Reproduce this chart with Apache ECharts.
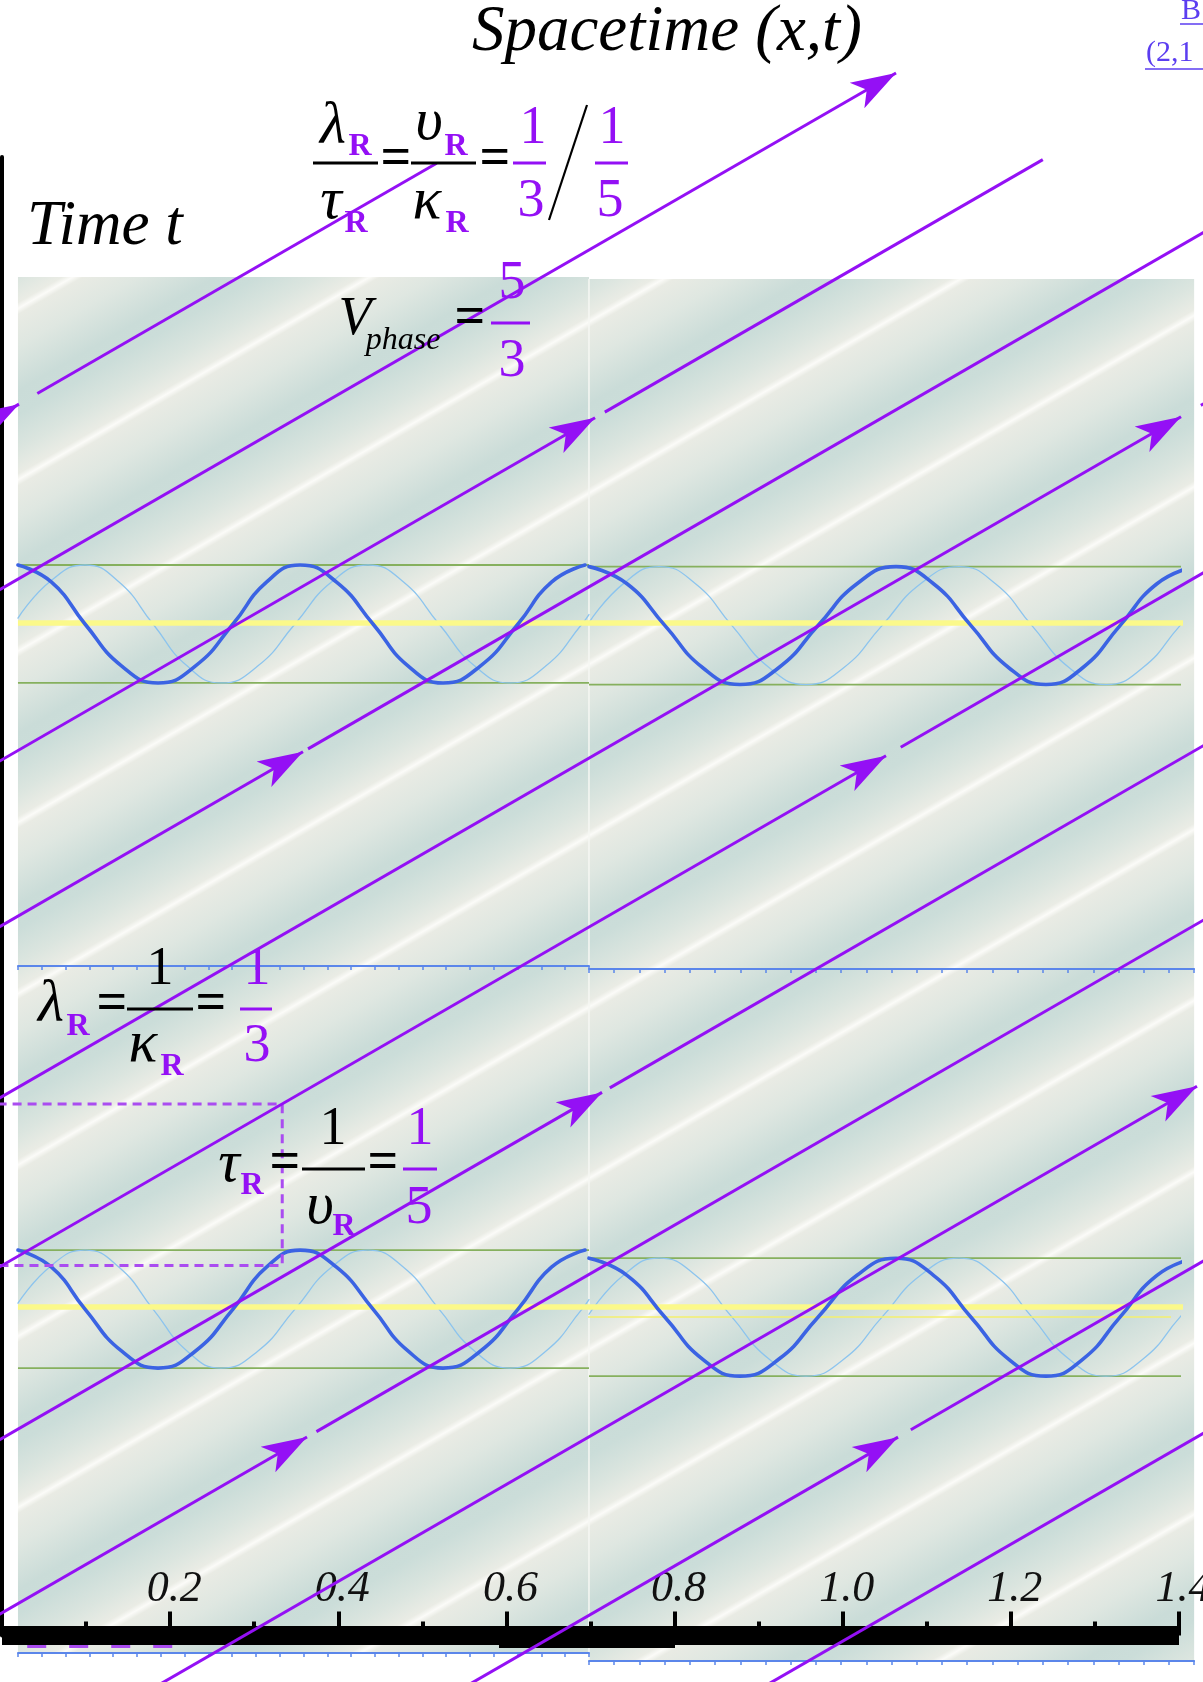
<!DOCTYPE html>
<html>
<head>
<meta charset="utf-8">
<script src="https://cdn.jsdelivr.net/npm/echarts@6/dist/echarts.min.js"></script>
<style>
  html, body { margin: 0; padding: 0; background: #ffffff; }
  #chart { width: 1203px; height: 1682px; }
</style>
</head>
<body>
<div id="chart"></div>
<script>
// ---------------- wave / spacetime parameters ----------------
const V_PHASE = 5 / 3;     // phase velocity  V = lambda / tau
const LAMBDA = 1 / 3;      // wavelength
const TAU = 1 / 5;         // period

// x-axis ticks and their labels
const xTickValues = [0.2, 0.4, 0.6, 0.8, 1.0, 1.2, 1.4];
const xTickLabels = ['0.2', '0.4', '0.6', '0.8', '1.0', '1.2', '1.4'];

// phase world-lines  t = t0 + x / V   (t0 = time where each line meets x = 0)
const phaseT0      = [1.512, 1.296, 1.084, 0.879, 0.667, 0.458, 0.244, 0.028, -0.173, -0.394, -0.607];
const phaseStartX  = [-0.03, -0.03, -0.03, -0.03, -0.03, -0.03, -0.03, -0.03, 0.17, 0.55, 0.90];
const phaseArrowX  = [0.0202, 1.0634, 0.7054, 0.3580, 1.4024, 1.0515, 0.7137, 0.3628, 1.4214, 1.0658, null];
const phaseResumeX = [0.042, null, 0.717, 0.364, 1.426, 1.069, 0.723, 0.374, null, 1.081, 0.90];
const phaseEndX    = [0.517, null, 1.238, 1.45, 1.45, 1.45, 1.45, 1.45, null, 1.45, 1.45];
const BOX_LINE = 5;        // world-line whose crossing is boxed by lambda and tau

// wave snapshots: sample positions (x) and values (-1..1)
const waveLeftBoldX  = [0.0190, 0.0589, 0.0987, 0.1421, 0.1856, 0.2302, 0.2748, 0.3146, 0.3545,
                        0.3979, 0.4413, 0.4829, 0.5246, 0.5692, 0.6138, 0.6536, 0.6935];
const waveRightBoldX = [0.6982, 0.7434, 0.7886, 0.8332, 0.8778, 0.9242, 0.9706, 1.0170, 1.0634,
                        1.1080, 1.1526, 1.1972, 1.2418, 1.2858, 1.3298, 1.3738, 1.4179];
const waveBoldValues = [1, 0.71, 0, -0.71, -1, -0.71, 0, 0.71, 1, 0.71, 0, -0.71, -1, -0.71, 0, 0.71, 1];
const waveLeftLightX = [0.0190, 0.0589, 0.0987, 0.1392, 0.1796, 0.2201, 0.2605, 0.3045, 0.3485,
                        0.3919, 0.4353, 0.4776, 0.5198, 0.5620, 0.6043, 0.6471, 0.6899, 0.6982];
const waveLeftLightV = [0.10, 0.74, 1, 0.71, 0, -0.71, -1, -0.71, 0, 0.71, 1, 0.71, 0, -0.71, -1, -0.71, 0, 0.16];
const waveRightLightX = [0.6982, 0.7399, 0.7815, 0.8249, 0.8683, 0.9123, 0.9563, 1.0015, 1.0467,
                         1.0926, 1.1383, 1.1817, 1.2251, 1.2691, 1.3131, 1.3572, 1.4012, 1.4179];
const waveRightLightV = [0.05, 0.72, 1, 0.71, 0, -0.71, -1, -0.71, 0, 0.71, 1, 0.71, 0, -0.71, -1, -0.71, 0, 0.25];

// snapshot panels: x range, t range, wave base line and amplitude (in t units)
const panelNames  = ['TL', 'TR', 'BL', 'BR'];
const panelX      = [[0.019, 0.6982], [0.6982, 1.418], [0.019, 0.6982], [0.6982, 1.418]];
const panelT      = [[0.8287, 1.6815], [0.8250, 1.6790], [-0.0217, 0.8287], [-0.0316, 0.8250]];
const panelCenter = [1.252, 1.250, 0.404, 0.394];
const WAVE_AMP = 0.073;
const axisLineT = [1.2532, 0.4066];      // bright zero lines of the two rows
const thinZeroBR = { t: 0.3942, x: [0.697, 1.3905] };

// stripes of constant phase in the background field
const STRIPE_PERIOD_T = 0.212;
const STRIPE_WHITE_T0 = 0.359;

// ---------------- styles ----------------
const SERIF = '"Liberation Serif", "DejaVu Serif", "Times New Roman", serif';
const PURPLE = '#9410f5';
const PURPLE_DASH = '#aa4cf0';
const BOLD_BLUE = '#3b63e3';
const LIGHT_BLUE = '#8cc4ee';
const GREEN = '#86b05e';
const YELLOW = '#fbf98a';
const RULER_BLUE = '#5b86ea';

const chart = echarts.init(document.getElementById('chart'), null, { renderer: 'canvas', width: 1203, height: 1682 });

function tOn(i, x) { return phaseT0[i] + x / V_PHASE; }
function seg(i, a, b) { return { coords: [[a, tOn(i, a)], [b, tOn(i, b)]] }; }

const arrowSegs = [], plainSegs = [];
phaseT0.forEach((t0, i) => {
  if (phaseArrowX[i] != null) arrowSegs.push(seg(i, phaseStartX[i], phaseArrowX[i]));
  if (phaseResumeX[i] != null && phaseEndX[i] != null) plainSegs.push(seg(i, phaseResumeX[i], phaseEndX[i]));
});

function straight(name, pts, color, width, z, type) {
  return {
    name, type: 'line', xAxisIndex: 0, yAxisIndex: 0, data: pts, symbol: 'none', silent: true,
    clip: false, z, lineStyle: { color, width, type: type || 'solid' }
  };
}
function waveSeries(name, xs, vs, center, color, width, z) {
  return {
    name, type: 'line', xAxisIndex: 0, yAxisIndex: 0, symbol: 'none', silent: true, smooth: 0.5,
    clip: false, z,
    data: xs.map((x, k) => [x, center + WAVE_AMP * vs[k]]),
    lineStyle: { color, width, cap: 'round', join: 'round' }
  };
}

const series = [];
// green crest / trough guides
panelNames.forEach((p, i) => {
  const c = panelCenter[i];
  series.push(straight('crest ' + p, [[panelX[i][0], c + WAVE_AMP], [panelX[i][1], c + WAVE_AMP]], GREEN, 1.8, 2));
  series.push(straight('trough ' + p, [[panelX[i][0], c - WAVE_AMP], [panelX[i][1], c - WAVE_AMP]], GREEN, 1.8, 2));
});
// light (quadrature) waves
panelNames.forEach((p, i) => {
  const left = (i % 2 === 0);
  series.push(waveSeries('quadrature ' + p, left ? waveLeftLightX : waveRightLightX,
    left ? waveLeftLightV : waveRightLightV, panelCenter[i], LIGHT_BLUE, 1.3, 3));
});
// zero lines
axisLineT.forEach((t, k) => series.push(straight('zero ' + k, [[0.019, t], [1.418, t]], YELLOW, 5.5, 4)));
series.push(straight('zero BR', [[thinZeroBR.x[0], thinZeroBR.t], [thinZeroBR.x[1], thinZeroBR.t]], '#f3ef6e', 1.4, 4));
// bold (real part) waves
panelNames.forEach((p, i) => {
  const left = (i % 2 === 0);
  series.push(waveSeries('wave ' + p, left ? waveLeftBoldX : waveRightBoldX, waveBoldValues,
    panelCenter[i], BOLD_BLUE, 3.6, 5));
});
// lambda / tau box on one world-line
const tb = phaseT0[BOX_LINE];
series.push(straight('lambda-tau box',
  [[-0.003, tb], [LAMBDA, tb], [LAMBDA, tb + TAU], [-0.003, tb + TAU]], PURPLE_DASH, 3, 7, [9, 6]));
series.push(straight('x dashes', [[0.030, -0.0136], [0.204, -0.0136]], PURPLE_DASH, 3, 1, [19, 23]));
// phase world-lines
series.push({
  name: 'phase lines (arrow)', type: 'lines', coordinateSystem: 'cartesian2d', xAxisIndex: 0, yAxisIndex: 0,
  clip: false, silent: true, z: 8, data: arrowSegs,
  symbol: ['none', 'arrow'], symbolSize: [4, [22, 45]],
  lineStyle: { color: PURPLE, width: 3, opacity: 1, curveness: 0 }
});
series.push({
  name: 'phase lines', type: 'lines', coordinateSystem: 'cartesian2d', xAxisIndex: 0, yAxisIndex: 0,
  clip: false, silent: true, z: 8, data: plainSegs, symbol: ['none', 'none'],
  lineStyle: { color: PURPLE, width: 3, opacity: 1, curveness: 0 }
});

const option = {
  animation: false,
  backgroundColor: '#ffffff',
  grid: [{ left: 2, top: 157, width: 1177, height: 1478.5, containLabel: false, outerBoundsMode: 'none' }],
  xAxis: [{
    gridIndex: 0, type: 'value', min: 0, max: 1.4, interval: 0.2, z: 1,
    axisLine: { show: true, lineStyle: { color: '#000', width: 19, cap: 'butt' } },
    axisTick: { show: true, inside: true, length: 24, lineStyle: { color: '#000', width: 4 } },
    minorTick: { show: true, splitNumber: 2, length: 14, lineStyle: { color: '#000', width: 4 } },
    axisLabel: {
      inside: true, margin: 24, showMinLabel: false, color: '#111', fontFamily: SERIF,
      fontStyle: 'italic', fontSize: 44, padding: [0, 0, 0, 8], hideOverlap: false,
      formatter: v => {
        const k = xTickValues.findIndex(u => Math.abs(u - v) < 1e-6);
        return k < 0 ? '' : xTickLabels[k];
      }
    },
    splitLine: { show: false }
  }],
  yAxis: [{
    gridIndex: 0, type: 'value', min: 0, max: 1.83, z: 1,
    axisLine: { show: true, lineStyle: { color: '#000', width: 4 } },
    axisTick: { show: false }, axisLabel: { show: false }, splitLine: { show: false }
  }],
  series
};
chart.setOption(option);

// ---------------- second pass: panels, rulers and annotations in pixel space ----------------
const px = (x, t) => chart.convertToPixel({ gridIndex: 0 }, [x, t]);

const STRIPE_PROFILE = [
  [0.00, '#fbfbf8'], [0.035, '#e9ebe4'], [0.22, '#dfe7e1'], [0.48, '#cadcd8'],
  [0.62, '#cbddd9'], [0.82, '#dbe5df'], [0.965, '#eaece5'], [1.00, '#fbfbf8']
];
function stripeFill(r) {
  const p0 = px(0, STRIPE_WHITE_T0);
  const p1 = px(1, STRIPE_WHITE_T0 + 1 / V_PHASE);
  let dx = p1[0] - p0[0], dy = p1[1] - p0[1];
  const L = Math.hypot(dx, dy); dx /= L; dy /= L;
  const nx = -dy, ny = dx;
  const ps = px(0, STRIPE_WHITE_T0 - STRIPE_PERIOD_T);
  const period = (ps[0] - p0[0]) * nx + (ps[1] - p0[1]) * ny;
  const corners = [[r.x, r.y], [r.x + r.w, r.y], [r.x, r.y + r.h], [r.x + r.w, r.y + r.h]];
  const pr = corners.map(c => ((c[0] - p0[0]) * nx + (c[1] - p0[1]) * ny) / period);
  const k0 = Math.floor(Math.min(...pr)), k1 = Math.ceil(Math.max(...pr));
  const K = k1 - k0;
  const stops = [];
  for (let k = 0; k < K; k++) {
    STRIPE_PROFILE.forEach(([f, c]) => stops.push({ offset: Math.min(1, (k + f) / K), color: c }));
  }
  return {
    type: 'linear', global: true,
    x: p0[0] + nx * k0 * period, y: p0[1] + ny * k0 * period,
    x2: p0[0] + nx * k1 * period, y2: p0[1] + ny * k1 * period,
    colorStops: stops
  };
}

const elements = [];
const rulerGrids = [], rulerX = [], rulerY = [];
panelNames.forEach((p, i) => {
  const a = px(panelX[i][0], panelT[i][1]);
  const b = px(panelX[i][1], panelT[i][0]);
  const r = { x: a[0], y: a[1], w: b[0] - a[0], h: b[1] - a[1] };
  elements.push({ type: 'rect', z: -10, silent: true, shape: { x: r.x, y: r.y, width: r.w, height: r.h },
    style: { fill: stripeFill(r) } });
  rulerGrids.push({ left: r.x, top: r.y + r.h - 10, width: r.w, height: 10, outerBoundsMode: 'none' });
  rulerX.push({
    gridIndex: i + 1, type: 'value', min: 0, max: 24, interval: 1, z: 1,
    axisLine: { show: true, lineStyle: { color: RULER_BLUE, width: 2 } },
    axisTick: { show: true, inside: false, length: 4, lineStyle: { color: RULER_BLUE, width: 1.5 } },
    axisLabel: { show: false }, splitLine: { show: false }
  });
  rulerY.push({ gridIndex: i + 1, type: 'value', show: false, min: 0, max: 1 });
});
// divider between left and right snapshots
{
  const a = px(0.6982, 1.679), b = px(0.6982, -0.0316);
  elements.push({ type: 'line', z: -9, silent: true, shape: { x1: a[0], y1: a[1], x2: b[0], y2: b[1] },
    style: { stroke: '#f6f7f3', lineWidth: 1.5 } });
}
// heavier part of the time axis base
elements.push({ type: 'rect', z: 1, silent: true, shape: { x: 499, y: 1638, width: 176, height: 10 }, style: { fill: '#000' } });

function txt(s, x, y, font, fill, align) {
  elements.push({ type: 'text', z: 20, silent: true, x, y,
    style: { text: s, font, fill: fill || '#000', textAlign: align || 'center', textVerticalAlign: 'middle' } });
}
function bar(x1, x2, y, color, w) {
  elements.push({ type: 'line', z: 20, silent: true, shape: { x1, y1: y, x2, y2: y },
    style: { stroke: color, lineWidth: w || 3 } });
}
const GREEK = 'italic 60px ' + SERIF;
const DIGIT = '54px ' + SERIF;
const SUB = 'bold 32px ' + SERIF;
const EQ = 'bold 54px ' + SERIF;

// title and axis name
txt('Spacetime (x,t)', 472, 33, 'italic 65px ' + SERIF, '#000', 'left');
txt('Time t', 27, 227, 'italic 63px ' + SERIF, '#000', 'left');

// link text in the corner
const LINK = '#5b3df0';
txt('B', 1181, 11, '30px ' + SERIF, LINK, 'left');
bar(1180, 1203, 24, LINK, 1.5);
txt('(2,1', 1146, 53, '30px ' + SERIF, LINK, 'left');
bar(1145, 1203, 69, LINK, 1.5);

// lambda/tau = upsilon/kappa = (1/3)/(1/5)
txt('λ', 333, 127, GREEK); txt('R', 360, 147, SUB, PURPLE);
bar(313, 378, 163, '#000');
txt('τ', 331, 202, GREEK); txt('R', 356, 224, SUB, PURPLE);
txt('=', 396, 160, EQ);
txt('υ', 429, 123, GREEK); txt('R', 456, 147, SUB, PURPLE);
bar(411, 476, 163, '#000');
txt('κ', 427, 202, GREEK); txt('R', 457, 224, SUB, PURPLE);
txt('=', 495, 160, EQ);
txt('1', 533, 129, DIGIT, PURPLE); bar(513, 546, 163, PURPLE); txt('3', 531, 202, DIGIT, PURPLE);
elements.push({ type: 'line', z: 20, silent: true, shape: { x1: 587, y1: 105, x2: 549, y2: 220 },
  style: { stroke: '#000', lineWidth: 2.2 } });
txt('1', 612, 129, DIGIT, PURPLE); bar(595, 628, 163, PURPLE); txt('5', 610, 202, DIGIT, PURPLE);

// V_phase = 5/3
txt('V', 355, 320, 'italic 54px ' + SERIF);
txt('phase', 403, 341, 'italic 32px ' + SERIF);
txt('=', 470, 319, EQ);
txt('5', 512, 284, DIGIT, PURPLE); bar(491, 530, 323, PURPLE); txt('3', 512, 362, DIGIT, PURPLE);

// lambda_R = 1/kappa_R = 1/3
txt('λ', 51, 1005, GREEK); txt('R', 78, 1027, SUB, PURPLE);
txt('=', 112, 1005, EQ);
txt('1', 160, 970, DIGIT); bar(127, 193, 1009, '#000');
txt('κ', 143, 1045, GREEK); txt('R', 172, 1067, SUB, PURPLE);
txt('=', 211, 1005, EQ);
txt('1', 257, 970, DIGIT, PURPLE); bar(240, 272, 1009, PURPLE); txt('3', 257, 1047, DIGIT, PURPLE);

// tau_R = 1/upsilon_R = 1/5
txt('τ', 229, 1165, GREEK); txt('R', 252, 1186, SUB, PURPLE);
txt('=', 285, 1164, EQ);
txt('1', 333, 1130, DIGIT); bar(302, 365, 1169, '#000');
txt('υ', 320, 1207, GREEK); txt('R', 344, 1227, SUB, PURPLE);
txt('=', 383, 1164, EQ);
txt('1', 420, 1130, DIGIT, PURPLE); bar(403, 437, 1169, PURPLE); txt('5', 419, 1209, DIGIT, PURPLE);

option.grid = option.grid.concat(rulerGrids);
option.xAxis = option.xAxis.concat(rulerX);
option.yAxis = option.yAxis.concat(rulerY);
option.graphic = { elements };
chart.setOption(option, true);
</script>
</body>
</html>
